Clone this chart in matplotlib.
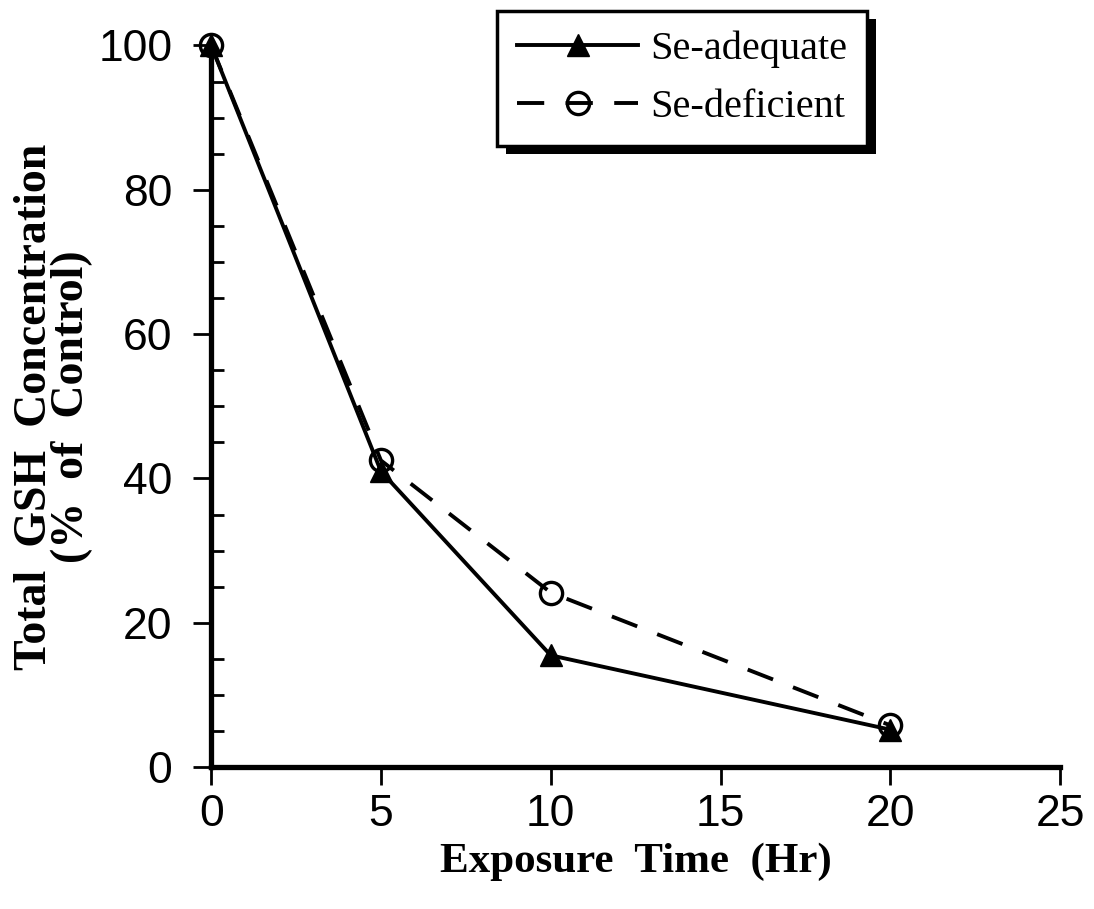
import matplotlib
matplotlib.use('Agg')
import matplotlib.pyplot as plt
import matplotlib.ticker as mticker
import matplotlib.patheffects as pe

# data
hours = [0, 5, 10, 20]
se_adequate = [100, 41, 15.5, 5.2]
se_deficient = [100, 42.5, 24.2, 5.8]

x_ticks = [0, 5, 10, 15, 20, 25]
y_ticks = [0, 20, 40, 60, 80, 100]

fig = plt.figure(figsize=(10.94, 9.09), dpi=100)
ax = fig.add_axes([0.193, 0.156, 0.776, 0.794])

ax.plot(hours, se_adequate, '-', color='black', linewidth=2.8,
        marker='^', markersize=16, markerfacecolor='black',
        markeredgecolor='black', label='Se-adequate', clip_on=False, zorder=3)
ax.plot(hours, se_deficient, color='black', linewidth=2.8, dashes=(7, 5.5),
        marker='o', markersize=16, markerfacecolor='none',
        markeredgecolor='black', markeredgewidth=2.4,
        label='Se-deficient', clip_on=False, zorder=4)

ax.set_xlim(0, 25)
ax.set_ylim(0, 100)
ax.set_xticks(x_ticks)
ax.set_yticks(y_ticks)
ax.yaxis.set_minor_locator(mticker.MultipleLocator(5))

for side in ['top', 'right']:
    ax.spines[side].set_visible(False)
for side in ['left', 'bottom']:
    ax.spines[side].set_linewidth(3.8)

ax.tick_params(axis='both', which='major', direction='out', length=13,
               width=2, labelsize=32)
ax.tick_params(axis='y', which='major', pad=15)
ax.tick_params(axis='x', which='major', pad=6)
ax.tick_params(axis='y', which='minor', direction='in', length=9, width=2)
for lab in ax.get_xticklabels() + ax.get_yticklabels():
    lab.set_fontfamily('Liberation Sans')

ax.set_xlabel('Exposure  Time  (Hr)', fontsize=31, fontweight='bold',
              fontfamily='Liberation Serif', labelpad=6)
ax.set_ylabel('Total  GSH  Concentration\n(%  of  Control)', fontsize=33,
              fontweight='bold', fontfamily='Liberation Serif',
              labelpad=4, linespacing=0.82)

leg = ax.legend(loc='upper left', bbox_to_anchor=(0.337, 1.048),
                borderaxespad=0, frameon=True, fancybox=False, framealpha=1,
                prop={'family': 'Liberation Serif', 'size': 29},
                handlelength=3.0, handletextpad=0.3, borderpad=0.5,
                labelspacing=0.5)
frame = leg.get_frame()
frame.set_facecolor('white')
frame.set_edgecolor('black')
frame.set_linewidth(2.5)
frame.set_path_effects([pe.SimplePatchShadow(offset=(6, -6),
                                             shadow_rgbFace='black', alpha=1),
                        pe.Normal()])

plt.savefig('out.png', dpi=100)
plt.close()
